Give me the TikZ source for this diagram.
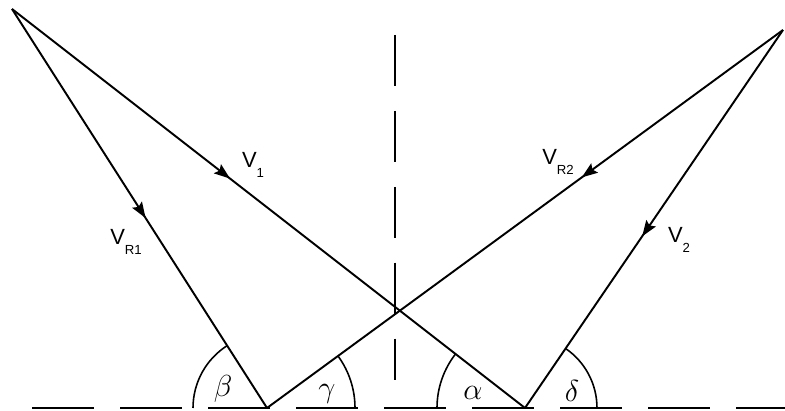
\documentclass[tikz,border=0pt]{standalone}
\usepackage{fontspec}
\newfontfamily\labelfont{Liberation Sans}
\usetikzlibrary{calc,arrows.meta,decorations.markings}
\def\anglearc[#1](#2)(#3:#4:#5){\draw[#1] ($(#2)+({#5*cos(#3)},{#5*sin(#3)})$) arc (#3:#4:#5);}
\newcommand{\vlab}[1]{{\labelfont\fontsize{12.5}{12.5}\selectfont V\raisebox{-0.8ex}{\fontsize{7.5}{7.5}\selectfont #1}}}
\tikzset{
  vecline/.style={line width=1.1pt, postaction={decorate},
    decoration={markings, mark=at position #1 with {\arrow{Stealth[length=9pt,width=6.5pt,inset=1.5pt]}}}},
  groundline/.style={line width=1.2pt, dash pattern=on 35.3pt off 14.8pt},
  normalline/.style={line width=1.2pt, dash pattern=on 29pt off 14.2pt},
  anglemark/.style={line width=0.9pt},
  greek/.style={font=\LARGE}
}

\begin{document}
\begin{tikzpicture}[x=0.02cm, y=0.02cm]
		%%%%% START %%%%%
		\useasboundingbox (0, 0) rectangle (785, 411);
		
		\coordinate (tl) at (12, 402);
		\coordinate (tr) at (783, 381);
		\coordinate (fa) at (267, 3);
		\coordinate (fb) at (525, 3);
		
		% ground and normal
		\coordinate (gl) at (32, 3);
		\coordinate (gr) at (785, 3);
		\draw[groundline] (gl) -- (gr);
		\coordinate (nt) at (395, 376);
		\coordinate (nb) at (395, 31);
		\draw[normalline] (nt) -- (nb);
		
		% velocities
		\draw[vecline=0.425] (tl) -- (fb);
		\draw[vecline=0.524] (tl) -- (fa);
		\draw[vecline=0.39] (tr) -- (fa);
		\draw[vecline=0.546] (tr) -- (fb);
		
		\node (v1) at (253, 246) {\vlab{1}};
		\node (vr1) at (126, 169) {\vlab{R1}};
		\node (vr2) at (558, 249) {\vlab{R2}};
		\node (v2) at (679, 171) {\vlab{2}};
		
		% angles
		\anglearc[anglemark](fa)(122.6:180:74)
		\anglearc[anglemark](fa)(0:36.1:88)
		\anglearc[anglemark](fb)(142.1:180:88)
		\anglearc[anglemark](fb)(0:55.5:72)
		
		\node[greek] (beta) at (223, 22) {$\beta$};
		\node[greek] (gamma) at (327, 17) {$\gamma$};
		\node[greek] (alpha) at (473, 18) {$\alpha$};
		\node[greek] (delta) at (572, 20) {$\delta$};
		
		%%%%% END %%%%%
	\end{tikzpicture}
\end{document}
